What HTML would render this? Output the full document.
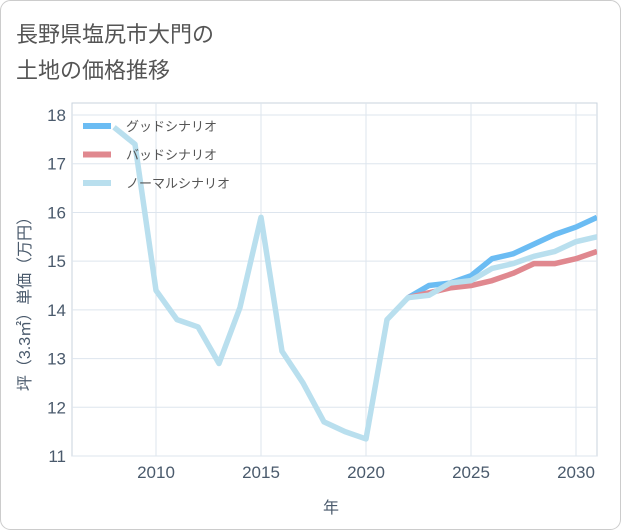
<!DOCTYPE html>
<html><head><meta charset="utf-8"><style>
body{margin:0;background:#fff;}
svg{display:block;font-family:"Liberation Sans","Noto Sans CJK JP",sans-serif;}
</style></head><body>
<svg id="c" width="621" height="530">
<rect x="0.5" y="0.5" width="620" height="529" rx="10" fill="#fff" stroke="#ccc"/>
<text x="16" y="42" font-size="22" fill="#555">長野県塩尻市大門の</text>
<text x="16" y="78" font-size="22" fill="#555">土地の価格推移</text>
<g id="grid"></g>
<g id="plot"></g>
<text x="331" y="513" font-size="16" fill="#4a5a6c" text-anchor="middle">年</text>
<text transform="translate(30,300) rotate(-90)" font-size="16" fill="#4a5a6c" text-anchor="middle">坪（3.3㎡）単価（万円）</text>
<g id="legend"></g>
</svg>
<script>
const years=[2008,2009,2010,2011,2012,2013,2014,2015,2016,2017,2018,2019,2020,2021,2022,2023,2024,2025,2026,2027,2028,2029,2030,2031];
const normal=[17.75,17.4,14.4,13.8,13.65,12.9,14.05,15.9,13.15,12.5,11.7,11.5,11.35,13.8,14.25,14.3,14.55,14.6,14.85,14.95,15.1,15.2,15.4,15.5];
const goodYears=[2022,2023,2024,2025,2026,2027,2028,2029,2030,2031];
const good=[14.25,14.5,14.55,14.7,15.05,15.15,15.35,15.55,15.7,15.9];
const bad=[14.25,14.35,14.45,14.5,14.6,14.75,14.95,14.95,15.05,15.2];
const xTicks=[2010,2015,2020,2025,2030];
const yTicks=[11,12,13,14,15,16,17,18];
const L=72,R=597,T=103,B=456;
const x=v=>156+(v-2010)*21;
const y=v=>456-(v-11)*48.71;
const ns="http://www.w3.org/2000/svg";
function mk(p,t,a){const e=document.createElementNS(ns,t);for(const k in a)e.setAttribute(k,a[k]);p.appendChild(e);return e;}
const grid=document.getElementById('grid'),plot=document.getElementById('plot'),leg=document.getElementById('legend');
mk(grid,'rect',{x:L,y:T,width:R-L,height:B-T,fill:'none',stroke:'#c9d3de'});
xTicks.forEach(t=>{mk(grid,'line',{x1:x(t),x2:x(t),y1:T,y2:B,stroke:'#dde5ee'});
const tx=mk(grid,'text',{x:x(t),y:B+22,'font-size':17,fill:'#4a5a6c','text-anchor':'middle'});tx.textContent=t;

});
yTicks.forEach(t=>{mk(grid,'line',{x1:L,x2:R,y1:y(t),y2:y(t),stroke:'#dde5ee'});
const tx=mk(grid,'text',{x:L-6,y:y(t)+6,'font-size':17,fill:'#4a5a6c','text-anchor':'end'});tx.textContent=t;

});
const cp=mk(plot,'clipPath',{id:'cp'});mk(cp,'rect',{x:L,y:T,width:R-L,height:B-T});
function line(xs,vs,col,name){const p=mk(plot,'polyline',{points:xs.map((v,i)=>x(v)+','+y(vs[i])).join(' '),fill:'none',stroke:col,'stroke-width':5.5,'stroke-linejoin':'round','clip-path':'url(#cp)'});

}
line(goodYears,good,'#6bbcf3','good-scenario-line');
line(goodYears,bad,'#e0888f','bad-scenario-line');
line(years,normal,'#b9dfee','normal-scenario-line');
[['グッドシナリオ','#6bbcf3'],['バッドシナリオ','#e0888f'],['ノーマルシナリオ','#b9dfee']].forEach((d,i)=>{
const g=mk(leg,'g',{});


const yy=126+i*28.5;
mk(g,'line',{x1:83,x2:111,y1:yy,y2:yy,stroke:d[1],'stroke-width':6});
const t=mk(g,'text',{x:126,y:yy+5,'font-size':13,fill:'#555'});t.textContent=d[0];});
</script>
</body></html>
